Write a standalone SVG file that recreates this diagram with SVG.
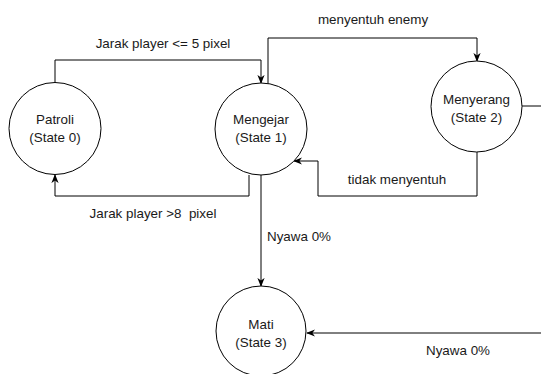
<svg xmlns="http://www.w3.org/2000/svg" width="541" height="374" viewBox="0 0 541 374">
<style>
.n{fill:#fff;stroke:#000;stroke-width:1}
.t{font-family:"Liberation Sans",Arial,sans-serif;font-size:13.4px;fill:#1a1a1a;text-anchor:middle}
.e{fill:none;stroke:#000;stroke-width:1;marker-end:url(#a)}
</style>
<defs>
<marker id="a" viewBox="0 0 10 10" refX="9" refY="5" markerWidth="9" markerHeight="9" orient="auto" markerUnits="userSpaceOnUse">
<path d="M0,1 L10,5 L0,9 L3,5 z" fill="#000"/>
</marker>
</defs>
<rect width="541" height="374" fill="#fff"/>
<g id="connectors">
<path class="e" d="M55,82 V60 H261 V83"/>
<path class="e" d="M249,175 V196 H55 V175"/>
<path class="e" d="M268,84 V38 H477 V61"/>
<path class="e" d="M477,152 V196 H318 V161 H294"/>
<path class="e" d="M261,175 V286"/>
<path class="e" d="M522,106 H546 V333 H307"/>
<text class="t" x="163" y="48">Jarak player &lt;= 5 pixel</text>
<text class="t" x="153" y="218" xml:space="preserve">Jarak player &gt;8  pixel</text>
<text class="t" x="373" y="24">menyentuh enemy</text>
<text class="t" x="397" y="184">tidak menyentuh</text>
<text class="t" x="267" y="241" style="text-anchor:start">Nyawa 0%</text>
<text class="t" x="458" y="355">Nyawa 0%</text>
</g>
<g id="patroli">
<circle class="n" cx="55" cy="128.5" r="46"/>
<text class="t" x="55" y="124">Patroli</text>
<text class="t" x="55" y="142">(State 0)</text>
</g>
<g id="mengejar">
<circle class="n" cx="261" cy="129" r="46"/>
<text class="t" x="261" y="124">Mengejar</text>
<text class="t" x="261" y="142">(State 1)</text>
</g>
<g id="menyerang">
<circle class="n" cx="476.5" cy="106.5" r="45.5"/>
<text class="t" x="476.5" y="104">Menyerang</text>
<text class="t" x="476.5" y="122">(State 2)</text>
</g>
<g id="mati">
<circle class="n" cx="261" cy="331" r="45"/>
<text class="t" x="261" y="329">Mati</text>
<text class="t" x="261" y="347">(State 3)</text>
</g>
</svg>
